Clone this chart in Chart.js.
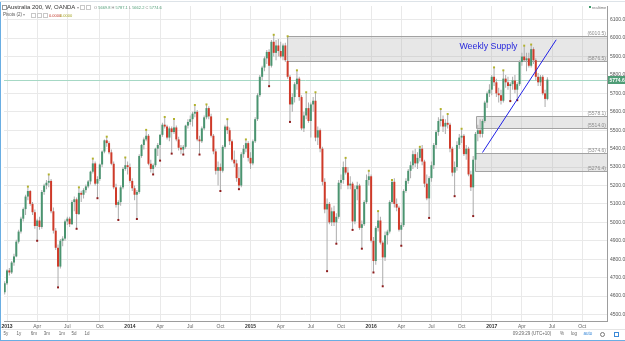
<!DOCTYPE html>
<html>
<head>
<meta charset="utf-8">
<script src="https://cdn.jsdelivr.net/npm/chart.js@4.4.0/dist/chart.umd.min.js"></script>
<style>
  html, body { margin: 0; padding: 0; background: #fff; }
  #wrap { position: relative; width: 625px; height: 341px; overflow: hidden; font-family: "Liberation Sans", Arial, sans-serif; }
  #chart { position: absolute; left: 0; top: 0; }
  .t { position: absolute; white-space: nowrap; line-height: 1; }
  .c { transform: translateX(-50%); }
  .ic { position: absolute; width: 3px; height: 3px; border: 1px solid #c8c8c8; }
  .bl { position: absolute; background: #6aaee3; }
  #ohlc b { font-weight: normal; color: #4f9d76; }
</style>
</head>
<body>
<div id="wrap">
  <canvas id="chart" width="625" height="341"></canvas>

  <!-- legend -->
  <div class="ic" style="left:2px;top:5px;border-color:#999"></div>
  <div class="t" style="left:7px;top:4px;font-size:6px;color:#333">Australia 200, W, OANDA <span style="font-size:4px;color:#999">&#9662;</span></div>
  <div class="ic" style="left:80px;top:5px"></div>
  <div class="ic" style="left:86px;top:5px"></div>
  <div class="t" id="ohlc" style="left:94px;top:5.5px;font-size:4px;color:#888"></div>
  <div class="t" style="left:3px;top:13px;font-size:4.5px;color:#555">Pivots (2) <span style="font-size:4px;color:#999">&#9662;</span></div>
  <div class="ic" style="left:31px;top:13px"></div>
  <div class="ic" style="left:37px;top:13px"></div>
  <div class="ic" style="left:43px;top:13px"></div>
  <div class="t" style="left:49px;top:13.5px;font-size:4px;color:#c0392b">0.0000</div>
  <div class="t" style="left:60px;top:13.5px;font-size:4px;color:#a3a31e">0.0000</div>

  <!-- realtime -->
  <div style="position:absolute;left:589px;top:6px;width:2px;height:2px;background:#3c9a6a"></div>
  <div class="t" style="left:592px;top:5.5px;font-size:4px;color:#777">realtime</div>

  <!-- bottom toolbar -->
  <div style="position:absolute;left:2px;top:329px;width:623px;height:1px;background:#e4e4e4"></div>
  <div class="t c" style="left:6px;top:332px;font-size:4.5px;color:#666">5y</div>
  <div class="t c" style="left:19px;top:332px;font-size:4.5px;color:#666">1y</div>
  <div class="t c" style="left:34px;top:332px;font-size:4.5px;color:#666">6m</div>
  <div class="t c" style="left:47px;top:332px;font-size:4.5px;color:#666">3m</div>
  <div class="t c" style="left:62px;top:332px;font-size:4.5px;color:#666">1m</div>
  <div class="t c" style="left:74px;top:332px;font-size:4.5px;color:#666">5d</div>
  <div class="t c" style="left:87px;top:332px;font-size:4.5px;color:#666">1d</div>
  <div class="t c" style="left:532px;top:332px;font-size:4.5px;color:#666">09:29:29 (UTC+10)</div>
  <div class="t c" style="left:562px;top:332px;font-size:4.5px;color:#666">%</div>
  <div class="t c" style="left:574px;top:332px;font-size:4.5px;color:#666">log</div>
  <div class="t c" style="left:588px;top:332px;font-size:4.5px;color:#3b8ad8">auto</div>
  <div style="position:absolute;left:600px;top:332px;width:3px;height:3px;border:1px solid #777;border-radius:50%"></div>
  <div style="position:absolute;left:614px;top:332px;width:3px;height:3px;border:1px dashed #3b8ad8"></div>

  <!-- window border -->
  <div style="position:absolute;left:0;top:1px;width:625px;height:1px;background:#dde3e8"></div>
  <div class="bl" style="left:0;top:2px;width:1px;height:339px"></div>
  <div class="bl" style="left:0;top:340px;width:625px;height:1px"></div>
</div>

<script>
// Australia 200 (OANDA), weekly candles. Week 0 = week of 31 Dec 2012.
const firstWeek = -1;

const open = [
  4620,4669,4739,4728,4782,4815,4895,4950,5020,5072,
  5140,5170,5100,5055,4980,5010,4975,5165,5200,5215,
  5225,5060,4955,4862,4760,4900,4912,5005,5020,4990,
  5110,5125,5045,5160,5150,5175,5195,5222,5275,5320,
  5210,5235,5314,5384,5445,5430,5380,5318,5190,5095,
  5110,5190,5290,5310,5300,5225,5185,5150,5165,5360,
  5420,5450,5470,5318,5290,5310,5400,5420,5475,5530,
  5520,5460,5510,5490,5515,5450,5405,5395,5410,5525,
  5545,5560,5590,5600,5450,5440,5510,5570,5620,5575,
  5470,5385,5280,5300,5280,5410,5520,5500,5440,5340,
  5320,5240,5200,5370,5400,5430,5350,5320,5440,5560,
  5690,5790,5840,5890,5925,5850,5980,5920,5960,5930,
  5900,5960,5876,5790,5640,5680,5750,5780,5680,5510,
  5580,5620,5550,5640,5660,5460,5500,5400,5220,5070,
  5100,5000,5060,5000,5030,5215,5230,5300,5270,5200,
  5210,5005,5180,5200,4970,4990,5110,5230,5250,4900,
  4790,4970,5010,4890,4810,4930,4950,5110,5220,5100,
  5080,4960,4985,5170,5225,5280,5310,5370,5320,5350,
  5400,5330,5210,5130,5240,5310,5420,5490,5550,5560,
  5520,5540,5530,5400,5270,5300,5420,5460,5470,5370,
  5400,5260,5190,5340,5480,5500,5480,5550,5650,5700,
  5720,5790,5760,5700,5690,5660,5780,5760,5740,5750,
  5770,5720,5750,5870,5900,5880,5890,5850,5940,5880,
  5790,5760,5790,5700,5669.8
];
const high = [
  4680,4745,4752,4790,4830,4905,4960,5030,5080,5150,
  5194,5175,5110,5070,5020,5030,5175,5210,5230,5260,
  5235,5080,4970,4880,4910,4925,5015,5030,5030,5120,
  5140,5135,5190,5172,5185,5205,5230,5280,5346,5330,
  5250,5320,5390,5450,5465,5440,5395,5330,5210,5120,
  5200,5300,5352,5330,5320,5240,5200,5175,5370,5425,
  5460,5502,5480,5340,5320,5405,5430,5480,5540,5572,
  5530,5520,5520,5561,5525,5465,5420,5420,5530,5560,
  5580,5600,5637,5610,5470,5520,5580,5640,5630,5590,
  5480,5400,5330,5320,5420,5530,5560,5515,5450,5390,
  5340,5300,5380,5420,5450,5440,5380,5450,5570,5700,
  5800,5850,5900,5935,5940,5990,6018,5990,5995,5980,
  5970,5975,6010,5800,5700,5760,5825,5790,5690,5600,
  5706,5650,5650,5680,5706,5520,5510,5410,5240,5130,
  5110,5080,5090,5050,5230,5260,5330,5350,5300,5250,
  5220,5200,5220,5210,5010,5120,5260,5280,5260,4920,
  4980,5061,5030,4900,4950,4960,5120,5230,5240,5130,
  5090,5000,5180,5240,5290,5330,5390,5400,5380,5410,
  5420,5340,5260,5250,5330,5430,5500,5570,5615,5580,
  5560,5588,5540,5410,5330,5440,5480,5508,5480,5420,
  5410,5280,5360,5490,5530,5560,5560,5660,5710,5750,
  5800,5841,5780,5730,5720,5825,5800,5790,5760,5790,
  5800,5760,5880,5920,5959,5920,5920,5965,5950,5890,
  5810,5800,5800,5720,5787.1
];
const low = [
  4608,4660,4712,4720,4765,4810,4885,4940,5005,5040,
  5120,5090,5040,4965,4900,4960,4965,5150,5180,5190,
  5050,4940,4850,4647,4750,4870,4900,4985,4975,4985,
  5060,4965,5040,5110,5130,5160,5185,5205,5265,5200,
  5131,5225,5300,5375,5410,5370,5310,5180,5080,5013,
  5090,5180,5280,5260,5215,5170,5120,5018,5155,5350,
  5395,5440,5310,5270,5260,5300,5360,5335,5465,5510,
  5450,5440,5373,5480,5440,5390,5370,5368,5400,5510,
  5530,5520,5570,5440,5368,5430,5500,5560,5560,5460,
  5370,5260,5200,5170,5270,5400,5480,5420,5330,5300,
  5220,5180,5190,5350,5380,5330,5290,5310,5430,5550,
  5680,5770,5820,5860,5739,5840,5900,5880,5900,5890,
  5880,5870,5780,5545,5600,5650,5720,5660,5500,5490,
  5560,5540,5460,5600,5440,5420,5380,5200,5050,4735,
  4990,4980,4980,4884,5020,5180,5210,5260,5180,5180,
  4959,4990,5120,4960,4857,4980,5100,5200,4890,4728,
  4770,4950,4880,4653,4790,4880,4940,5100,5080,5060,
  4950,4873,4975,5160,5210,5240,5290,5300,5290,5330,
  5310,5190,5120,5024,5220,5290,5400,5470,5520,5490,
  5480,5510,5380,5250,5142,5280,5400,5430,5360,5340,
  5250,5170,5034,5320,5440,5460,5460,5540,5620,5680,
  5690,5740,5680,5650,5640,5650,5730,5720,5658,5720,
  5700,5663,5740,5850,5870,5820,5840,5840,5860,5770,
  5740,5740,5690,5626,5662.2
];
const close = [
  4669,4739,4728,4782,4815,4895,4950,5020,5072,5140,
  5170,5100,5055,4980,5010,4975,5165,5200,5215,5225,
  5060,4955,4862,4760,4900,4912,5005,5020,4990,5110,
  5125,5045,5160,5150,5175,5195,5222,5275,5320,5210,
  5235,5314,5384,5445,5430,5380,5318,5190,5095,5110,
  5190,5290,5310,5300,5225,5185,5150,5165,5360,5420,
  5450,5470,5318,5290,5310,5400,5420,5475,5530,5520,
  5460,5510,5490,5515,5450,5405,5395,5410,5525,5545,
  5560,5590,5600,5450,5440,5510,5570,5620,5575,5470,
  5385,5280,5300,5280,5410,5520,5500,5440,5340,5320,
  5240,5200,5370,5400,5430,5350,5320,5440,5560,5690,
  5790,5840,5890,5925,5850,5980,5920,5960,5930,5900,
  5960,5880,5790,5640,5680,5750,5780,5680,5510,5580,
  5620,5550,5640,5660,5460,5500,5400,5220,5070,5100,
  5000,5060,5000,5030,5215,5230,5300,5270,5200,5210,
  5005,5180,5200,4970,4990,5110,5230,5250,4900,4790,
  4970,5010,4890,4810,4930,4950,5110,5220,5100,5080,
  4960,4985,5170,5225,5280,5310,5370,5320,5350,5400,
  5330,5210,5130,5240,5310,5420,5490,5550,5560,5520,
  5540,5530,5400,5270,5300,5420,5460,5470,5370,5400,
  5260,5190,5340,5480,5500,5480,5550,5650,5700,5720,
  5790,5760,5700,5690,5660,5780,5760,5740,5750,5770,
  5720,5750,5870,5900,5880,5890,5850,5940,5880,5790,
  5760,5790,5700,5670,5774.6
];

// pivot markers (Pivots (2) indicator)
const pivotHighWeek  = [9, 18, 31, 37, 43, 51, 60, 68, 72, 81, 86, 95, 103, 115, 121, 125, 129, 133,
                        146, 156, 160, 166, 178, 187, 190, 196, 210, 214, 223, 226];
const pivotHighPrice = [5194, 5260, 5190, 5346, 5465, 5352, 5502, 5572, 5561, 5637, 5640, 5560, 5450, 6018, 6010, 5825, 5706, 5706,
                        5350, 5280, 5061, 5230, 5410, 5615, 5588, 5508, 5841, 5825, 5959, 5965];
const pivotLowWeek  = [13, 22, 30, 39, 48, 56, 63, 66, 71, 76, 83, 92, 100, 113, 122, 138, 142, 149, 153, 158, 162, 170, 182, 193, 201, 217, 220];
const pivotLowPrice = [4900, 4647, 4965, 5131, 5013, 5018, 5260, 5335, 5373, 5368, 5368, 5170, 5180, 5739, 5545, 4735, 4884, 4959, 4857, 4728, 4653, 4873, 5024, 5142, 5034, 5658, 5663];

// zones and trend line drawn on the chart
const zoneTop      = [6010.5, 5578.1, 5374.6];
const zoneBottom   = [5876.5, 5514.0, 5276.4];
const zoneFromWeek = [120.6, 202.3, 202.0];
const trendWeek  = [205, 236.8];
const trendPrice = [5379, 5991];

// axes
const tickWeek  = [0, 13, 26, 40, 53, 66, 79, 92, 105, 118, 131, 144, 157, 170, 183, 196, 209, 222, 235, 248];
const tickLabel = ["2013", "Apr", "Jul", "Oct", "2014", "Apr", "Jul", "Oct", "2015", "Apr", "Jul", "Oct",
                   "2016", "Apr", "Jul", "Oct", "2017", "Apr", "Jul", "Oct"];
const priceTicks = [4500, 4600, 4700, 4800, 4900, 5000, 5100, 5200, 5300, 5400, 5500,
                    5600, 5700, 5800, 5900, 6000, 6100];

const UP = "#4a9470", DOWN = "#cf3a29", WICK = "#acacac";
const FONT = '"Liberation Sans", Arial, sans-serif';
const GRID = "#e9e9e9";

const weeks = close.map((_, i) => firstWeek + i);
const last = close.length - 1;

document.getElementById("ohlc").innerHTML =
  `O <b>${open[last].toFixed(1)}</b> H <b>${high[last].toFixed(1)}</b> L <b>${low[last].toFixed(1)}</b> C <b>${close[last].toFixed(1)}</b>`;

const drawings = {
  id: "drawings",
  beforeDatasetsDraw(chart) {
    const { ctx, chartArea: a, scales: { x, y } } = chart;
    ctx.save();
    ctx.beginPath();
    ctx.rect(a.left, a.top, a.right - a.left, a.bottom - a.top);
    ctx.clip();

    // current price line
    const py = Math.round(y.getPixelForValue(close[last])) + 0.5;
    ctx.strokeStyle = "#a6d8c5";
    ctx.lineWidth = 1;
    ctx.beginPath(); ctx.moveTo(a.left, py); ctx.lineTo(a.right, py); ctx.stroke();

    zoneTop.forEach((top, i) => {
      const x0 = Math.round(x.getPixelForValue(zoneFromWeek[i])) + 0.5;
      const y0 = Math.round(y.getPixelForValue(top)) + 0.5;
      const y1 = Math.round(y.getPixelForValue(zoneBottom[i])) + 0.5;
      ctx.fillStyle = "rgba(170,170,170,0.28)";
      ctx.fillRect(x0, y0, a.right - x0, y1 - y0);
      ctx.strokeStyle = "#a2a2a2";
      ctx.beginPath();
      ctx.moveTo(a.right, y0); ctx.lineTo(x0, y0); ctx.lineTo(x0, y1); ctx.lineTo(a.right, y1);
      ctx.stroke();
      ctx.fillStyle = "#8c8c8c";
      ctx.font = "5px " + FONT;
      ctx.textAlign = "right";
      ctx.textBaseline = "bottom";
      ctx.fillText("(" + top.toFixed(1) + ")", a.right - 1, y0 - 0.5);
      ctx.fillText("(" + zoneBottom[i].toFixed(1) + ")", a.right - 1, y1 - 0.5);
    });
    ctx.restore();
  },
  afterDatasetsDraw(chart) {
    const { ctx, scales: { x, y } } = chart;
    ctx.save();
    ctx.fillStyle = "#2626dc";
    ctx.font = "8.8px " + FONT;
    ctx.textAlign = "center";
    ctx.textBaseline = "middle";
    ctx.fillText("Weekly Supply", x.getPixelForValue(207.6), y.getPixelForValue(5952));
    ctx.restore();
  },
  afterDraw(chart) {
    const { ctx, chartArea: a, scales: { y } } = chart;
    const py = y.getPixelForValue(close[last]);
    ctx.save();
    ctx.fillStyle = "#4f9d76";
    ctx.fillRect(a.right + 1, Math.round(py) - 4, 17, 8);
    ctx.fillStyle = "#fff";
    ctx.font = "bold 5px " + FONT;
    ctx.textAlign = "left";
    ctx.textBaseline = "middle";
    ctx.fillText(close[last].toFixed(1), a.right + 2.5, Math.round(py) + 0.5);
    ctx.restore();
  }
};

new Chart(document.getElementById("chart"), {
  type: "bar",
  data: {
    datasets: [
      {
        type: "line",
        data: trendWeek.map((w, i) => ({ x: w, y: trendPrice[i] })),
        borderColor: "#2020e6", borderWidth: 1, pointRadius: 0, order: 0
      },
      {
        type: "line", showLine: false,
        data: pivotHighWeek.map((w, i) => ({ x: w, y: pivotHighPrice[i] })),
        pointStyle: "rect", pointRadius: 1.4, pointBorderWidth: 0,
        pointBackgroundColor: "#b2b22c", order: 0
      },
      {
        type: "line", showLine: false,
        data: pivotLowWeek.map((w, i) => ({ x: w, y: pivotLowPrice[i] })),
        pointStyle: "rect", pointRadius: 1.4, pointBorderWidth: 0,
        pointBackgroundColor: "#8e1c1c", order: 0
      },
      {
        data: weeks.map((w, i) => ({ x: w, y: [open[i], close[i]] })),
        backgroundColor: (c) => close[c.dataIndex] >= open[c.dataIndex] ? UP : DOWN,
        barThickness: 2, minBarLength: 1, grouped: false, inflateAmount: 0, order: 1
      },
      {
        data: weeks.map((w, i) => ({ x: w, y: [low[i], high[i]] })),
        backgroundColor: WICK,
        barThickness: 1, grouped: false, inflateAmount: 0, order: 2
      }
    ]
  },
  options: {
    responsive: false,
    maintainAspectRatio: false,
    devicePixelRatio: 1,
    animation: false,
    events: [],
    layout: { padding: { left: 2, top: 3, right: 0, bottom: 10 } },
    plugins: { legend: { display: false }, tooltip: { enabled: false } },
    scales: {
      x: {
        type: "linear", min: -1.3, max: 258.7, offset: false,
        afterBuildTicks: (ax) => { ax.ticks = tickWeek.map((v) => ({ value: v })); },
        afterFit: (ax) => { ax.height = 10; ax.paddingLeft = 0; ax.paddingRight = 0; },
        ticks: {
          autoSkip: false, maxRotation: 0, padding: 3,
          callback: (v, i) => tickLabel[i],
          color: (c) => /^\d{4}$/.test(tickLabel[c.index]) ? "#333" : "#666",
          font: (c) => ({ size: 5, family: FONT, weight: /^\d{4}$/.test(tickLabel[c.index]) ? "bold" : "normal" })
        },
        grid: { color: GRID, drawTicks: false, offset: false },
        border: { color: "#9d9d9d" }
      },
      y: {
        position: "right", min: 4464.6, max: 6174.2,
        afterBuildTicks: (ax) => { ax.ticks = priceTicks.map((v) => ({ value: v })); },
        afterFit: (ax) => { ax.width = 18; },
        ticks: {
          padding: 3, color: "#555", font: { size: 5, family: FONT },
          callback: (v) => v.toFixed(1)
        },
        grid: { color: GRID, drawTicks: false },
        border: { color: "#9d9d9d" }
      }
    }
  },
  plugins: [drawings]
});
</script>
</body>
</html>
